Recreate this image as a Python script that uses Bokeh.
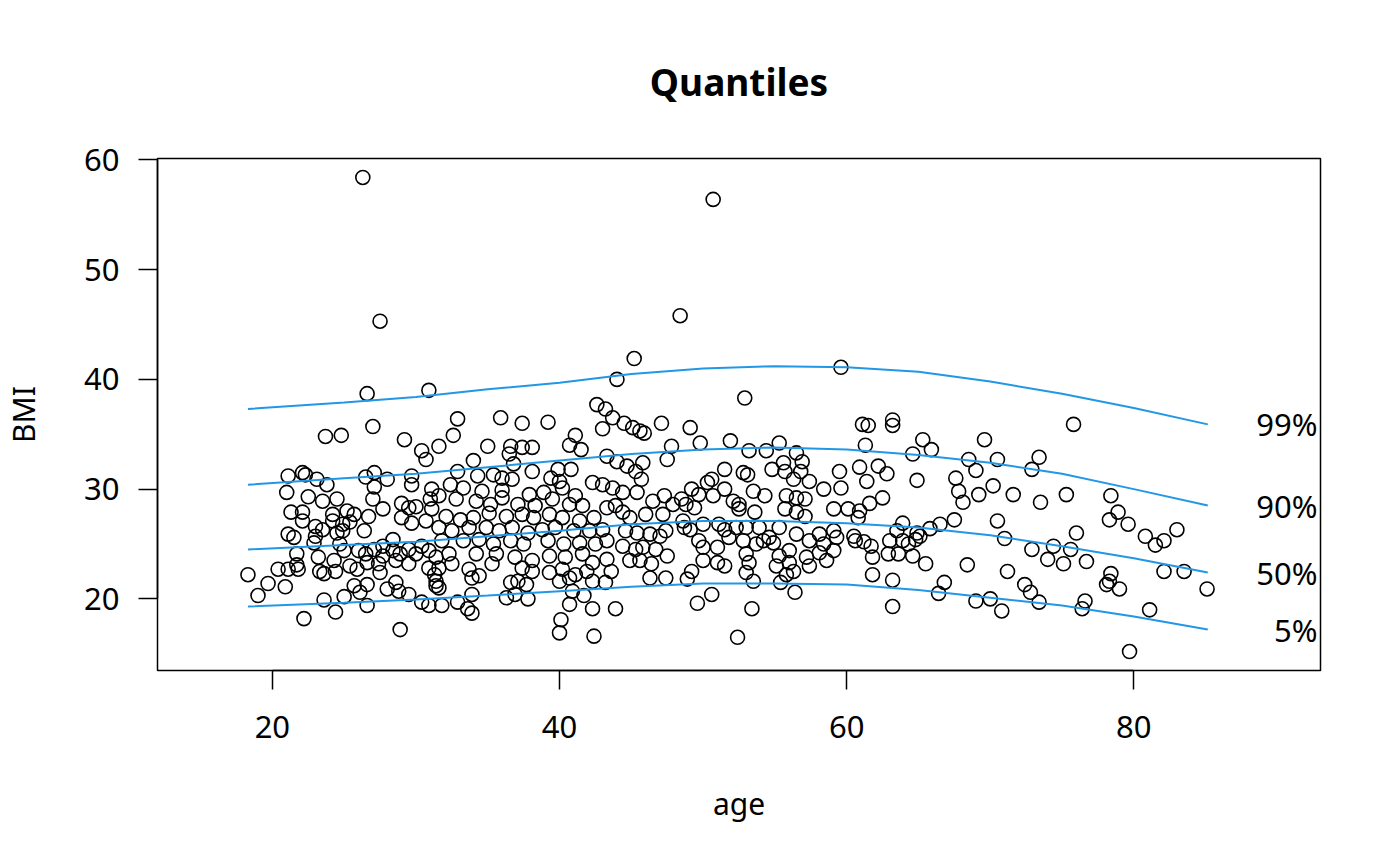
from bokeh.plotting import figure
from bokeh.models import Range1d, FixedTicker
from bokeh.embed import file_html
from bokeh.resources import INLINE
from bokeh.core.properties import value

FONT = "Noto Sans"

pts_outliers = [(26.3, 58.4), (50.7, 56.4), (27.5, 45.3), (48.4, 45.8), (45.2, 41.9), (59.6, 41.1)]

pts_18_31 = [
    (26.6, 38.7), (30.9, 39.0), (23.7, 34.8), (24.8, 34.9), (27.0, 35.7), (29.2, 34.5), (30.4, 33.5),
    (30.7, 32.7), (31.6, 33.9), (21.1, 31.2), (22.1, 31.5), (22.3, 31.3), (23.1, 30.9), (23.8, 30.4),
    (21.0, 29.7), (22.5, 29.3), (23.5, 28.9), (24.5, 29.1), (26.5, 31.1), (27.1, 31.5), (28.0, 30.9),
    (27.1, 30.2), (27.0, 29.1), (27.7, 28.2), (29.7, 31.2), (29.7, 30.4), (31.1, 30.0), (21.3, 27.9),
    (22.1, 27.9), (22.1, 27.1), (23.0, 26.6), (23.5, 26.3), (24.2, 27.7), (24.2, 27.1), (25.2, 28.0),
    (25.7, 27.7), (24.9, 26.8), (25.4, 27.0), (26.7, 27.5), (26.4, 26.2), (29.0, 28.7), (29.5, 28.3),
    (30.0, 28.4), (31.0, 29.1), (31.1, 28.2), (29.0, 27.4), (29.7, 26.9), (30.7, 27.1), (21.1, 25.9),
    (21.5, 25.6), (23.0, 25.7), (22.9, 25.1), (24.5, 26.0), (24.9, 26.2), (24.7, 25.0), (25.0, 24.4),
    (21.7, 24.1), (23.2, 23.8), (24.3, 23.5), (26.0, 24.4), (26.5, 24.1), (27.1, 24.5), (27.7, 24.8),
    (27.7, 23.9), (28.4, 25.4), (28.4, 24.4), (28.9, 24.1), (29.5, 24.5), (30.0, 24.1), (30.4, 24.8),
    (30.9, 24.4), (31.4, 23.8), (28.6, 23.5), (20.4, 22.7), (21.1, 22.7), (21.7, 23.1), (21.8, 22.7),
    (23.3, 22.5), (23.6, 22.3), (24.4, 22.5), (25.4, 23.0), (25.9, 22.7), (26.6, 23.3), (27.4, 23.2),
    (27.5, 22.4), (29.5, 23.2), (30.9, 22.8), (31.3, 22.2), (18.3, 22.2), (19.7, 21.4), (20.9, 21.1),
    (19.0, 20.3), (25.7, 21.2), (26.1, 20.6), (26.6, 21.3), (28.0, 20.9), (28.6, 21.5), (28.8, 20.7),
    (29.5, 20.4), (31.4, 21.2), (23.6, 19.9), (25.0, 20.2), (26.6, 19.4), (24.4, 18.8), (22.2, 18.2),
    (28.9, 17.2), (30.4, 19.7), (30.9, 19.4),
]

pts_31_45 = [
    (44.0, 40.0), (32.9, 36.4), (35.9, 36.5), (37.4, 36.0), (39.2, 36.1), (42.6, 37.7), (43.2, 37.3),
    (43.7, 36.5), (44.5, 36.0), (45.1, 35.6), (45.6, 35.3), (43.0, 35.5), (32.6, 34.9), (35.0, 33.9),
    (36.6, 33.9), (37.4, 33.8), (38.1, 33.8), (40.7, 34.0), (41.1, 34.9), (41.5, 33.6), (34.0, 32.6),
    (36.5, 33.2), (36.8, 32.3), (43.3, 33.0), (44.0, 32.5), (44.7, 32.1), (45.3, 31.6), (32.9, 31.6),
    (34.3, 31.2), (35.4, 31.3), (36.0, 31.0), (36.7, 30.9), (38.1, 31.6), (39.9, 31.8), (40.8, 31.8),
    (39.4, 31.0), (40.0, 30.7), (32.4, 30.4), (33.3, 30.1), (34.6, 29.8), (36.0, 29.9), (37.9, 29.5),
    (38.9, 29.7), (40.2, 30.1), (41.1, 29.4), (42.3, 30.6), (43.0, 30.4), (43.7, 30.1), (44.4, 29.7),
    (45.4, 29.7), (31.6, 29.4), (32.8, 29.1), (34.2, 28.9), (35.2, 28.6), (36.0, 29.2), (37.1, 28.6),
    (38.3, 28.5), (39.5, 29.1), (40.7, 28.6), (41.6, 28.5), (43.3, 28.3), (43.9, 28.5), (44.4, 27.9),
    (32.1, 27.5), (33.1, 27.2), (34.0, 27.4), (35.1, 27.8), (36.3, 27.5), (37.4, 27.7), (38.2, 27.4),
    (39.3, 27.7), (40.2, 27.4), (41.4, 27.1), (42.4, 27.4), (44.9, 27.4), (31.6, 26.5), (32.5, 26.2),
    (33.7, 26.5), (34.9, 26.5), (35.8, 26.2), (36.7, 26.5), (37.8, 26.0), (38.8, 26.3), (39.7, 26.5),
    (41.0, 26.2), (42.1, 26.2), (43.0, 26.3), (44.6, 26.2), (45.4, 26.0), (31.8, 25.3), (33.3, 25.3),
    (34.4, 25.4), (35.4, 25.0), (36.6, 25.3), (37.5, 25.0), (39.2, 25.3), (40.3, 25.0), (41.4, 25.1),
    (42.5, 25.0), (43.3, 25.3), (44.4, 24.8), (45.3, 24.5), (32.3, 24.1), (34.2, 24.1), (35.6, 24.1),
    (36.9, 23.8), (38.1, 23.5), (39.3, 23.9), (40.4, 23.8), (41.6, 24.1), (42.3, 23.3), (43.3, 23.6),
    (44.9, 23.5), (31.6, 22.8), (32.5, 23.2), (33.7, 22.7), (35.3, 23.2), (37.4, 22.8), (39.3, 22.4),
    (40.2, 22.7), (41.1, 22.2), (41.9, 22.5), (43.6, 22.5), (31.4, 21.6), (33.9, 21.9), (34.4, 22.1),
    (36.6, 21.5), (37.1, 21.6), (37.7, 21.3), (38.1, 22.5), (40.0, 21.6), (40.7, 21.9), (42.3, 21.6),
    (43.2, 21.5), (31.6, 21.0), (33.9, 20.4), (36.9, 20.4), (37.8, 20.0), (36.3, 20.1), (40.9, 20.7),
    (41.7, 20.3), (31.8, 19.4), (32.9, 19.7), (33.6, 19.1), (33.9, 18.7), (40.7, 19.5), (42.3, 19.1),
    (43.9, 19.1), (40.1, 18.1), (40.0, 16.9), (42.4, 16.6),
]

pts_45_60 = [
    (52.9, 38.3), (47.1, 36.0), (49.1, 35.6), (45.9, 35.1), (47.8, 33.9), (49.8, 34.2), (51.9, 34.4),
    (47.5, 32.7), (53.2, 33.5), (54.4, 33.5), (55.3, 34.2), (56.5, 33.3), (56.9, 32.5), (45.8, 32.4),
    (55.6, 32.4), (54.8, 31.8), (55.7, 31.6), (56.8, 31.6), (51.5, 31.8), (52.8, 31.5), (53.1, 31.3),
    (59.5, 31.6), (45.7, 30.9), (50.6, 30.9), (50.3, 30.6), (56.3, 30.9), (57.4, 30.7), (58.4, 30.0),
    (59.6, 30.1), (51.5, 30.0), (53.5, 29.8), (54.3, 29.4), (49.2, 30.0), (49.7, 29.5), (50.7, 29.4),
    (46.5, 28.9), (47.3, 29.4), (47.9, 28.6), (48.5, 29.1), (48.8, 28.6), (49.4, 28.3), (55.8, 29.4),
    (56.5, 29.2), (57.1, 29.1), (52.1, 28.9), (52.5, 28.6), (52.5, 28.2), (53.6, 27.9), (55.7, 28.2),
    (56.5, 27.9), (57.1, 27.5), (59.1, 28.2), (46.0, 27.7), (47.2, 27.7), (48.6, 27.1), (48.7, 26.5),
    (49.1, 26.3), (50.0, 26.8), (51.1, 26.8), (51.5, 26.3), (52.3, 26.5), (53.0, 26.5), (53.9, 26.5),
    (54.6, 25.6), (55.3, 26.5), (56.5, 25.9), (58.1, 25.9), (59.1, 26.2), (46.3, 25.9), (47.0, 25.7),
    (47.4, 26.2), (49.7, 25.3), (51.8, 25.6), (52.8, 25.3), (53.7, 25.0), (54.2, 25.3), (54.9, 25.1),
    (57.4, 25.3), (58.4, 25.0), (59.3, 25.6), (45.8, 24.7), (46.7, 24.5), (47.5, 23.9), (50.0, 24.7),
    (51.0, 24.7), (53.0, 24.1), (55.3, 23.9), (56.0, 24.4), (57.2, 23.8), (58.1, 24.2), (59.1, 24.4),
    (45.6, 23.5), (46.4, 23.2), (50.0, 23.5), (51.0, 23.3), (51.5, 23.0), (53.2, 23.3), (55.1, 23.0),
    (56.0, 23.3), (56.3, 22.5), (57.4, 23.0), (58.6, 23.5), (49.2, 22.5), (53.0, 22.4), (46.3, 21.9),
    (47.4, 21.9), (48.9, 21.8), (53.5, 21.6), (55.4, 21.5), (55.8, 22.2), (50.6, 20.4), (49.6, 19.6),
    (53.4, 19.1), (56.4, 20.6), (52.4, 16.5),
]

pts_60_74 = [
    (61.1, 35.9), (61.5, 35.8), (63.2, 36.3), (63.2, 35.8), (61.3, 34.0), (65.3, 34.5), (65.9, 33.6),
    (69.6, 34.5), (64.6, 33.2), (68.5, 32.7), (70.5, 32.7), (73.4, 32.9), (72.9, 31.8), (60.9, 32.0),
    (62.2, 32.1), (62.8, 31.4), (69.0, 31.7), (64.9, 30.8), (67.6, 31.0), (61.4, 30.7), (70.2, 30.3),
    (71.6, 29.5), (73.5, 28.8), (67.8, 29.8), (69.2, 29.5), (68.1, 28.8), (62.5, 29.2), (61.6, 28.7),
    (60.1, 28.2), (60.9, 28.0), (60.8, 27.4), (67.5, 27.2), (70.5, 27.1), (63.9, 26.9), (65.8, 26.4),
    (66.5, 26.8), (63.5, 26.2), (64.9, 26.0), (65.1, 25.7), (60.5, 25.7), (60.6, 25.3), (61.2, 25.2),
    (61.7, 24.8), (63.0, 25.3), (63.9, 25.3), (64.3, 25.0), (64.8, 25.4), (71.0, 25.5), (72.9, 24.5),
    (61.8, 23.8), (62.9, 24.1), (63.6, 24.1), (64.6, 23.9), (65.5, 23.2), (68.4, 23.1), (71.2, 22.5),
    (61.8, 22.2), (63.2, 21.7), (66.8, 21.5), (72.4, 21.3), (72.8, 20.6), (73.4, 19.7), (66.4, 20.5),
    (69.0, 19.8), (70.0, 20.0), (70.8, 18.9), (63.2, 19.3),
]

pts_74_86 = [
    (75.8, 35.9), (75.3, 29.5), (78.4, 29.4), (78.9, 27.9), (78.3, 27.2), (79.6, 26.8), (76.0, 26.0),
    (80.8, 25.7), (81.5, 24.9), (82.1, 25.3), (83.0, 26.3), (74.4, 24.8), (75.6, 24.5), (74.0, 23.6),
    (75.1, 23.2), (76.7, 23.4), (78.4, 22.3), (78.1, 21.3), (78.3, 21.6), (79.0, 20.9), (82.1, 22.5),
    (83.5, 22.5), (85.1, 20.9), (76.6, 19.8), (76.4, 19.1), (81.1, 19.0), (79.7, 15.2),
]

# ---- fitted quantile curves ----
curve_age = [18.3, 25, 30, 35, 40, 45, 50, 55, 60, 65, 70, 75, 80, 85.15]
q99 = [37.3, 37.9, 38.4, 39.1, 39.7, 40.5, 41.0, 41.2, 41.1, 40.7, 39.8, 38.7, 37.4, 35.9]
q90 = [30.4, 31.0, 31.4, 32.0, 32.6, 33.2, 33.6, 33.8, 33.6, 33.1, 32.4, 31.4, 30.0, 28.5]
q50 = [24.5, 24.9, 25.2, 25.7, 26.2, 26.8, 27.1, 27.1, 26.9, 26.5, 25.8, 24.8, 23.7, 22.4]
q05 = [19.3, 19.65, 19.95, 20.3, 20.7, 21.1, 21.4, 21.4, 21.3, 20.8, 20.1, 19.4, 18.4, 17.2]
curve_labels = ["99%", "90%", "50%", "5%"]

x_ticks = [20, 40, 60, 80]
y_ticks = [20, 30, 40, 50, 60]
x_lim = (15, 90)

all_pts = pts_outliers + pts_18_31 + pts_31_45 + pts_45_60 + pts_60_74 + pts_74_86
age = [a for a, b in all_pts]
bmi = [b for a, b in all_pts]

# R-style 4% range extension
xspan = x_lim[1] - x_lim[0]
x0, x1 = x_lim[0] - 0.04 * xspan, x_lim[1] + 0.04 * xspan
yspan = max(bmi) - min(bmi)
y0, y1 = min(bmi) - 0.04 * yspan, max(bmi) + 0.04 * yspan

p = figure(width=1384, height=850, output_backend="svg", toolbar_location=None,
           x_range=Range1d(x0, x1), y_range=Range1d(y0, y1),
           min_border_left=157, min_border_right=64, min_border_top=158, min_border_bottom=180,
           title="Quantiles")
p.background_fill_color = "white"
p.border_fill_color = "white"
p.grid.visible = False
p.outline_line_color = "black"
p.outline_line_width = 1.5

p.title.align = "center"
p.title.text_font = FONT
p.title.text_font_size = "37px"
p.title.text_font_style = "bold"
p.title.text_color = "black"
p.title.standoff = 104

for ax, ticks, lab in ((p.xaxis[0], x_ticks, "age"), (p.yaxis[0], y_ticks, "BMI")):
    ax.ticker = FixedTicker(ticks=ticks)
    ax.bounds = (ticks[0], ticks[-1])
    ax.axis_label = lab
    ax.axis_line_color = "black"
    ax.axis_line_width = 1.5
    ax.major_tick_line_color = "black"
    ax.major_tick_line_width = 1.5
    ax.major_tick_in = 0
    ax.major_tick_out = 19
    ax.minor_tick_line_color = None
    ax.major_label_text_font = FONT
    ax.major_label_text_font_size = "31px"
    ax.major_label_text_color = "black"
    ax.axis_label_text_font = FONT
    ax.axis_label_text_font_size = "30px"
    ax.axis_label_text_font_style = "normal"
    ax.axis_label_text_color = "black"

p.xaxis[0].major_label_standoff = 26
p.xaxis[0].axis_label_standoff = 42
p.yaxis[0].major_label_standoff = 19
p.yaxis[0].axis_label_standoff = 37

p.scatter(age, bmi, marker="circle", size=14, fill_color=None,
          line_color="black", line_width=1.6)

curves = [q99, q90, q50, q05]
for q in curves:
    p.line(curve_age, q, line_color="#2297E6", line_width=2)

p.text(x=[x1] * 4, y=[q[-1] for q in curves], text=curve_labels, x_offset=-3,
       text_align="right", text_baseline="middle", text_font=value(FONT),
       text_font_size="31px", text_color="black")

open("out.html", "w").write(file_html(p, INLINE))
